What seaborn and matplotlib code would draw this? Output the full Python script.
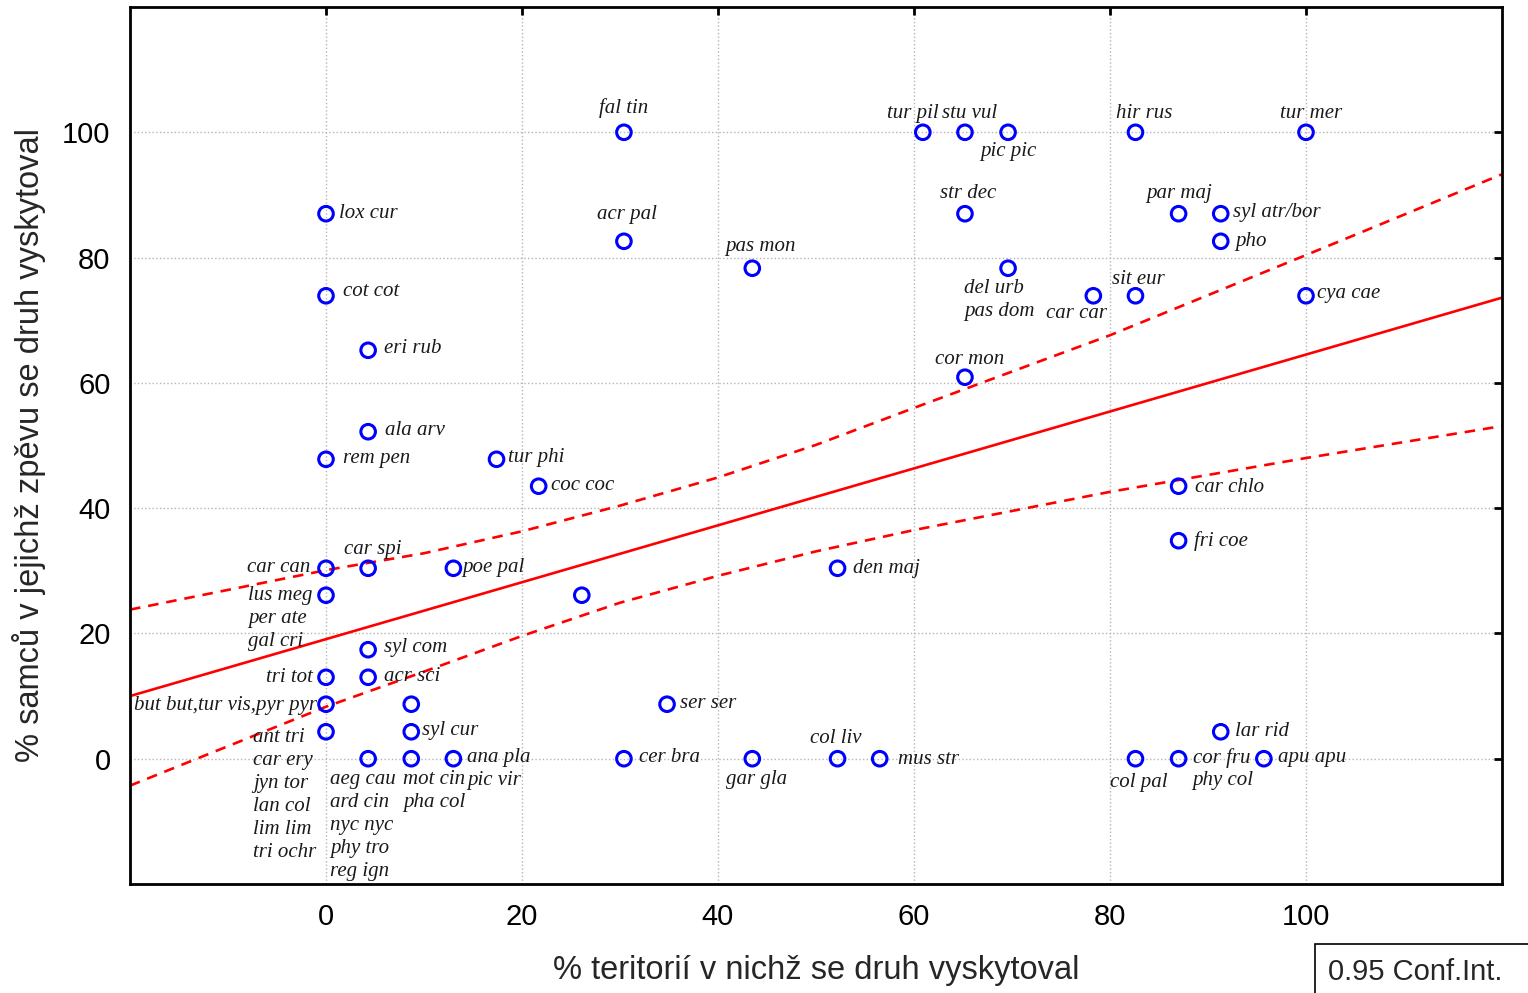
import matplotlib.pyplot as plt
import matplotlib.patches as mpatches
import seaborn as sns
import pandas as pd

# body: % teritorií (x), % samců (y), zkratka druhu
species_x = [30.4, 60.9, 65.2, 69.6, 82.6, 100.0,
             0.0, 65.2, 87.0, 91.3, 30.4, 91.3, 43.5, 69.6,
             0.0, 78.3, 82.6, 100.0, 4.3, 65.2, 4.3, 0.0, 17.4, 21.7,
             87.0, 87.0, 0.0, 4.3, 13.0, 52.2, 0.0, 26.1,
             4.3, 0.0, 4.3, 0.0, 8.7, 34.8, 0.0, 8.7, 91.3,
             4.3, 8.7, 13.0, 30.4, 43.5, 52.2, 56.5, 82.6, 87.0, 95.7]
species_y = [100.0, 100.0, 100.0, 100.0, 100.0, 100.0,
             87.0, 87.0, 87.0, 87.0, 82.6, 82.6, 78.3, 78.3,
             73.9, 73.9, 73.9, 73.9, 65.2, 60.9, 52.2, 47.8, 47.8, 43.5,
             43.5, 34.8, 30.4, 30.4, 30.4, 30.4, 26.1, 26.1,
             17.4, 13.0, 13.0, 8.7, 8.7, 8.7, 4.3, 4.3, 4.3,
             0.0, 0.0, 0.0, 0.0, 0.0, 0.0, 0.0, 0.0, 0.0, 0.0]
species_labels = ['fal tin', 'tur pil', 'stu vul', 'pic pic', 'hir rus', 'tur mer',
                  'lox cur', 'str dec', 'par maj', 'syl atr/bor', 'acr pal', 'pho',
                  'pas mon', 'del urb\npas dom',
                  'cot cot', 'car car', 'sit eur', 'cya cae', 'eri rub', 'cor mon',
                  'ala arv', 'rem pen', 'tur phi', 'coc coc',
                  'car chlo', 'fri coe', 'car can', 'car spi', 'poe pal', 'den maj',
                  'lus meg\nper ate\ngal cri', '',
                  'syl com', 'tri tot', 'acr sci', 'but but,tur vis,pyr pyr', '',
                  'ser ser', 'ant tri\ncar ery\njyn tor\nlan col\nlim lim\ntri ochr',
                  'syl cur', 'lar rid',
                  'aeg cau\nard cin\nnyc nyc\nphy tro\nreg ign', 'mot cin\npha col',
                  'ana pla\npic vir', 'cer bra', 'gar gla', 'col liv', 'mus str',
                  'col pal', 'cor fru\nphy col', 'apu apu']

# regresní přímka a 0.95 pás
fit_x = [-20, 120]
fit_y = [10.0, 73.6]
ci_x = [-20, 0, 10, 20, 30, 40, 50, 60, 80, 100, 120]
ci_upper = [23.8, 30.1, 32.8, 36.3, 40.4, 44.9, 50.1, 56.0, 67.6, 80.4, 93.3]
ci_lower = [-4.3, 8.3, 13.9, 19.6, 24.9, 29.2, 33.1, 36.5, 42.6, 48.0, 53.1]

# umístění popisků: zarovnání, posun v pixelech (dx, dy)
label_pos = [('center', 0, 24), ('center', -10, 19), ('center', 5, 19), ('center', 0, -19),
             ('center', 9, 19), ('center', 5, 19),
             ('left', 13, 0), ('center', 3, 20), ('center', 0, 20), ('left', 12, 1),
             ('center', 3, 27), ('left', 14, 0), ('center', 8, 22), ('left', -44, -20),
             ('left', 17, 4), ('center', -17, -18), ('center', 3, 16), ('left', 11, 2),
             ('left', 16, 2), ('center', 5, 18), ('left', 17, 1), ('left', 17, 1),
             ('left', 11, 2), ('left', 12, 1),
             ('left', 16, -1), ('left', 15, 0), ('right', -16, 1), ('center', 5, 19),
             ('left', 9, 1), ('left', 15, 0), ('left', -78, 0), None,
             ('left', 16, 2), ('right', -13, 0), ('left', 16, 1), ('right', -9, -1), None,
             ('left', 13, 1), ('left', -73, -6), ('left', 11, 1), ('left', 14, 0),
             ('left', -38, -21), ('left', -8, -21), ('left', 14, 1), ('left', 15, 1),
             ('center', 4, -21), ('center', -2, 20), ('left', 18, -1),
             ('center', 3, -24), ('left', 14, 1), ('left', 14, 1)]

df = pd.DataFrame({'x': species_x, 'y': species_y, 'label': species_labels})

sns.set_style('white')
plt.rcParams['font.family'] = ['Liberation Sans', 'DejaVu Sans']

fig = plt.figure(figsize=(15.28, 9.93), dpi=100)
ax = fig.add_axes([130 / 1528, 109 / 993, 1372 / 1528, 877 / 993])

sns.lineplot(x=fit_x, y=fit_y, color='#ff0000', linewidth=1.9, ax=ax)
sns.lineplot(x=ci_x, y=ci_upper, color='#ff0000', linewidth=1.9, linestyle=(0, (4, 3)), ax=ax)
sns.lineplot(x=ci_x, y=ci_lower, color='#ff0000', linewidth=1.9, linestyle=(0, (4, 3)), ax=ax)

sns.scatterplot(data=df, x='x', y='y', marker='o', s=110, facecolors='none',
                edgecolor='#0000ff', linewidth=2.2, ax=ax, zorder=5)

for (txt, x, y), pos in zip(zip(species_labels, species_x, species_y), label_pos):
    if not txt or pos is None:
        continue
    ha, dx, dy = pos
    for i, line in enumerate(txt.split('\n')):
        ax.annotate(line, (x, y), xytext=(dx, dy - i * 23), textcoords='offset pixels',
                    ha=ha, va='center', fontsize=15, style='italic',
                    family='Liberation Serif', color='#1a1a1a')

ax.set_xlim(-20, 120)
ax.set_ylim(-20, 120)
ticks = [0, 20, 40, 60, 80, 100]
ax.set_xticks(ticks)
ax.set_yticks(ticks)
ax.grid(True, linestyle=':', color='#b5b5b5', linewidth=1)
ax.tick_params(direction='in', length=6, width=2, labelsize=21, pad=14,
               top=True, right=True, colors='black')
for sp in ax.spines.values():
    sp.set_linewidth(2)
    sp.set_color('black')

ax.set_xlabel('% teritorií v nichž se druh vyskytoval', fontsize=23.5, labelpad=17)
ax.set_ylabel('% samců v jejichž zpěvu se druh vyskytoval', fontsize=23.5, labelpad=12)

# rámeček s legendou intervalu
fig.patches.append(mpatches.Rectangle((1315 / 1528, -0.01), 0.2, 0.0593,
                                      transform=fig.transFigure, fill=False,
                                      edgecolor='black', linewidth=1.2))
fig.text(1328 / 1528, 21 / 993, '0.95 Conf.Int.', fontsize=21, ha='left', va='center')

plt.savefig('out.png', dpi=100)
